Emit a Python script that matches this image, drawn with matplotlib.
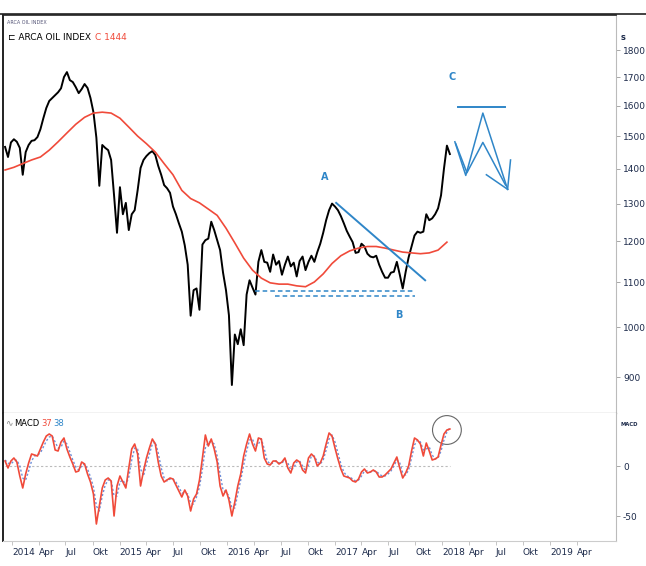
import pandas as pd
import numpy as np
import matplotlib
matplotlib.use('Agg')
import matplotlib.pyplot as plt

# values (10 day steps for price / macd, 30 day steps for the MA)
price_start = '2013-12-08'
price = [1466, 1435, 1480, 1490, 1482, 1463, 1382, 1450, 1472, 1485,
         1487, 1497, 1522, 1558, 1592, 1616, 1626, 1636, 1646, 1660,
         1700, 1718, 1689, 1682, 1664, 1643, 1657, 1675, 1661, 1626,
         1578, 1495, 1350, 1472, 1463, 1456, 1426, 1323, 1222, 1346,
         1271, 1302, 1229, 1271, 1282, 1337, 1402, 1426, 1438, 1447,
         1453, 1441, 1408, 1382, 1352, 1343, 1330, 1292, 1271, 1247,
         1225, 1190, 1142, 1025, 1082, 1086, 1038, 1192, 1203, 1207,
         1251, 1229, 1203, 1178, 1123, 1082, 1026, 885, 985, 965,
         996, 963, 1072, 1105, 1088, 1072, 1149, 1178, 1149, 1147,
         1125, 1167, 1142, 1151, 1118, 1142, 1162, 1138, 1147, 1114,
         1151, 1162, 1129, 1149, 1164, 1149, 1173, 1194, 1222, 1255,
         1282, 1300, 1292, 1282, 1266, 1247, 1227, 1212, 1198, 1171,
         1173, 1194, 1187, 1169, 1162, 1160, 1164, 1142, 1125, 1111,
         1111, 1123, 1125, 1149, 1118, 1086, 1125, 1160, 1187, 1215,
         1225, 1222, 1225, 1271, 1255, 1260, 1271, 1287, 1323, 1400,
         1470, 1444]

ma200 = [1396, 1404, 1415, 1426, 1435, 1456, 1482, 1510, 1538, 1561,
         1575, 1578, 1575, 1558, 1529, 1500, 1476, 1450, 1415, 1382,
         1337, 1314, 1302, 1285, 1268, 1234, 1196, 1158, 1129, 1110,
         1099, 1096, 1096, 1092, 1090, 1101, 1120, 1145, 1164, 1176,
         1183, 1187, 1187, 1183, 1178, 1173, 1171, 1169, 1171, 1178,
         1198]

macd = [5, -2, 5, 8, 4, -10, -22, -8, 3, 12,
        11, 10, 17, 24, 30, 32, 30, 16, 15, 24,
        28, 17, 9, 2, -6, -5, 4, 2, -8, -16,
        -28, -58, -40, -22, -14, -12, -15, -50, -20, -10,
        -16, -22, -2, 17, 22, 12, -20, -5, 8, 18,
        27, 22, 4, -10, -16, -14, -12, -13, -19, -25,
        -31, -24, -30, -45, -33, -28, -14, 8, 31, 20,
        27, 17, 4, -20, -30, -24, -34, -50, -36, -20,
        -8, 10, 22, 32, 22, 15, 28, 27, 8, 2,
        1, 5, 5, 2, 4, 8, -2, -7, 3, 6,
        4, -4, -7, 8, 12, 9, 0, 3, 10, 22,
        33, 30, 18, 7, -3, -10, -11, -12, -15, -16,
        -13, -6, -3, -7, -6, -4, -6, -11, -11, -9,
        -6, -3, 3, 9, -2, -12, -7, 0, 15, 28,
        26, 22, 10, 23, 15, 6, 7, 9, 21, 32,
        36, 37]

signal = [6, 3, 2, 5, 6, 0, -12, -14, -5, 5,
          10, 11, 13, 19, 25, 29, 30, 24, 18, 19,
          25, 22, 14, 6, -1, -4, 0, 2, -3, -11,
          -21, -40, -45, -30, -19, -14, -14, -30, -30, -16,
          -14, -19, -11, 6, 18, 17, -3, -10, 2, 12,
          22, 24, 13, -2, -12, -15, -13, -13, -16, -21,
          -27, -27, -28, -37, -38, -31, -21, -3, 18, 24,
          24, 22, 10, -8, -24, -26, -30, -42, -42, -28,
          -14, 1, 15, 26, 27, 19, 22, 27, 17, 5,
          2, 3, 5, 3, 3, 6, 3, -4, -2, 4,
          5, 0, -5, 1, 10, 10, 4, 2, 6, 16,
          27, 31, 24, 13, 2, -6, -10, -11, -13, -15,
          -14, -10, -5, -5, -6, -5, -5, -8, -10, -10,
          -8, -5, 0, 6, 3, -7, -9, -4, 8, 21,
          26, 24, 16, 17, 19, 11, 7, 8, 15, 26,
          34, 38]

# hand drawn annotations (date, price)
trend_dates = ['2017-01-05', '2017-11-03']
trend_vals = [1302, 1105]
support_hi_dates = ['2016-04-05', '2017-09-30']
support_hi_vals = [1080, 1080]
support_lo_dates = ['2016-06-12', '2017-09-30']
support_lo_vals = [1068, 1068]
target_dates = ['2018-02-23', '2018-07-31']
target_vals = [1595, 1595]
zig_outer_dates = ['2018-02-12', '2018-03-21', '2018-05-18', '2018-08-10']
zig_outer_vals = [1482, 1380, 1575, 1340]
zig_inner_dates = ['2018-02-15', '2018-03-25', '2018-05-18', '2018-08-03']
zig_inner_vals = [1476, 1388, 1480, 1352]
head1_dates = ['2018-08-20', '2018-08-10']
head1_vals = [1426, 1340]
head2_dates = ['2018-05-30', '2018-08-10']
head2_vals = [1382, 1340]
wave_labels = ['A', 'B', 'C']
wave_dates = ['2016-11-28', '2017-08-05', '2018-02-03']
wave_vals = [1376, 1026, 1700]

price_ticks = [900, 1000, 1100, 1200, 1300, 1400, 1500, 1600, 1700, 1800]
macd_ticks = [0, -50]
month_names = {1: None, 4: 'Apr', 7: 'Jul', 10: 'Okt'}

dates = pd.date_range(price_start, periods=len(price), freq='10D')
ma_dates = pd.date_range(price_start, periods=len(ma200), freq='30D')
td = lambda l: pd.to_datetime(l)

blue = '#2f86c8'
red = '#f04a3a'
navy = '#1c2a4a'

fig = plt.figure(figsize=(6.46, 5.66), dpi=100)
ax = fig.add_axes([3/646, 1-413/566, 613/646, 398/566])
ax2 = fig.add_axes([3/646, 1-541/566, 613/646, 128/566], sharex=ax)

ax.plot(dates, price, color='black', lw=1.4)
ax.plot(ma_dates, ma200, color=red, lw=1.2)
ax.set_yscale('log')
ax.set_ylim(834, 1939)
ax.set_xlim(pd.Timestamp('2013-12-01'), pd.Timestamp('2019-08-13'))

ax.plot(td(trend_dates), trend_vals, color=blue, lw=1.4)
ax.plot(td(support_hi_dates), support_hi_vals, color=blue, lw=1.1, ls=(0, (3, 2)))
ax.plot(td(support_lo_dates), support_lo_vals, color=blue, lw=1.1, ls=(0, (3, 2)))
ax.plot(td(target_dates), target_vals, color=blue, lw=1.4)
for d, v in [(zig_outer_dates, zig_outer_vals), (zig_inner_dates, zig_inner_vals),
             (head1_dates, head1_vals), (head2_dates, head2_vals)]:
    ax.plot(td(d), v, color=blue, lw=1.1)
for lab, d, v in zip(wave_labels, wave_dates, wave_vals):
    ax.text(pd.Timestamp(d), v, lab, color=blue, fontsize=7, fontweight='bold', ha='center', va='center')

ax.yaxis.tick_right()
ax.yaxis.set_minor_locator(matplotlib.ticker.NullLocator())
ax.set_yticks(price_ticks)
ax.set_yticklabels([str(t) for t in price_ticks])
ax.tick_params(axis='y', labelsize=6.5, colors='#999999', labelcolor=navy, length=3, width=0.6, pad=2)
ax.tick_params(axis='x', bottom=False, labelbottom=False)
for s in ['top', 'left']:
    ax.spines[s].set_color('#222222')
ax.spines['left'].set_linewidth(1.4)
ax.spines['top'].set_linewidth(1.2)
ax.spines['right'].set_color('#bbbbbb')
ax.spines['bottom'].set_color('#999999')
ax.spines['bottom'].set_linewidth(0.9)

ax.text(0.006, 0.988, 'ARCA OIL INDEX', transform=ax.transAxes, fontsize=3.5, color='#555577', va='top')
ax.text(0.008, 0.955, '\u228f ARCA OIL INDEX', transform=ax.transAxes, fontsize=6.5, color='black', va='top')
ax.text(0.150, 0.955, 'C 1444', transform=ax.transAxes, fontsize=6.5, color=red, va='top')
ax.text(1.008, 0.955, 's', transform=ax.transAxes, fontsize=6, color=navy, va='top', fontweight='bold')

# macd panel
ax2.hlines(0, dates[0], dates[-1], color='#bbbbbb', lw=0.8, ls=(0, (2, 2)))
ax2.plot(dates, signal, color='#6f8fd8', lw=1.0, ls=(0, (1.5, 1.5)))
ax2.plot(dates, macd, color=red, lw=1.2)
ax2.scatter([dates[-2]], [36], s=430, facecolors='none', edgecolors='#666666', lw=0.8)
ax2.set_ylim(-75, 53)
ax2.yaxis.tick_right()
ax2.set_yticks(macd_ticks)
ax2.set_yticklabels([str(t) for t in macd_ticks])
ax2.tick_params(axis='y', labelsize=6.5, colors='#999999', labelcolor=navy, length=3, width=0.6, pad=2)
ax2.text(1.008, 0.93, 'MACD', transform=ax2.transAxes, fontsize=3.8, color=navy, va='top', fontweight='bold')
ax2.text(0.004, 0.96, '\u223f', transform=ax2.transAxes, fontsize=6.5, color='#888888', va='top')
ax2.text(0.018, 0.955, 'MACD', transform=ax2.transAxes, fontsize=6, color='black', va='top')
ax2.text(0.063, 0.955, '37', transform=ax2.transAxes, fontsize=6, color=red, va='top')
ax2.text(0.082, 0.955, '38', transform=ax2.transAxes, fontsize=6, color=blue, va='top')
ax2.spines['top'].set_visible(False)
ax2.spines['left'].set_color('#222222')
ax2.spines['left'].set_linewidth(1.4)
ax2.spines['right'].set_color('#bbbbbb')
ax2.spines['bottom'].set_color('#cccccc')

qticks = pd.date_range('2014-01-01', '2019-04-01', freq='QS')
ax2.set_xticks(qticks)
ax2.set_xticklabels([str(q.year) if q.month == 1 else month_names[q.month] for q in qticks],
                    ha='left', fontsize=6.5, color=navy)
ax2.tick_params(axis='x', length=3, width=0.6, colors='#bbbbbb', labelcolor=navy, pad=2)

fig.add_artist(plt.Line2D([0, 1], [1-14/566, 1-14/566], color='#222222', lw=1.2))
fig.savefig('out.png', dpi=100)
